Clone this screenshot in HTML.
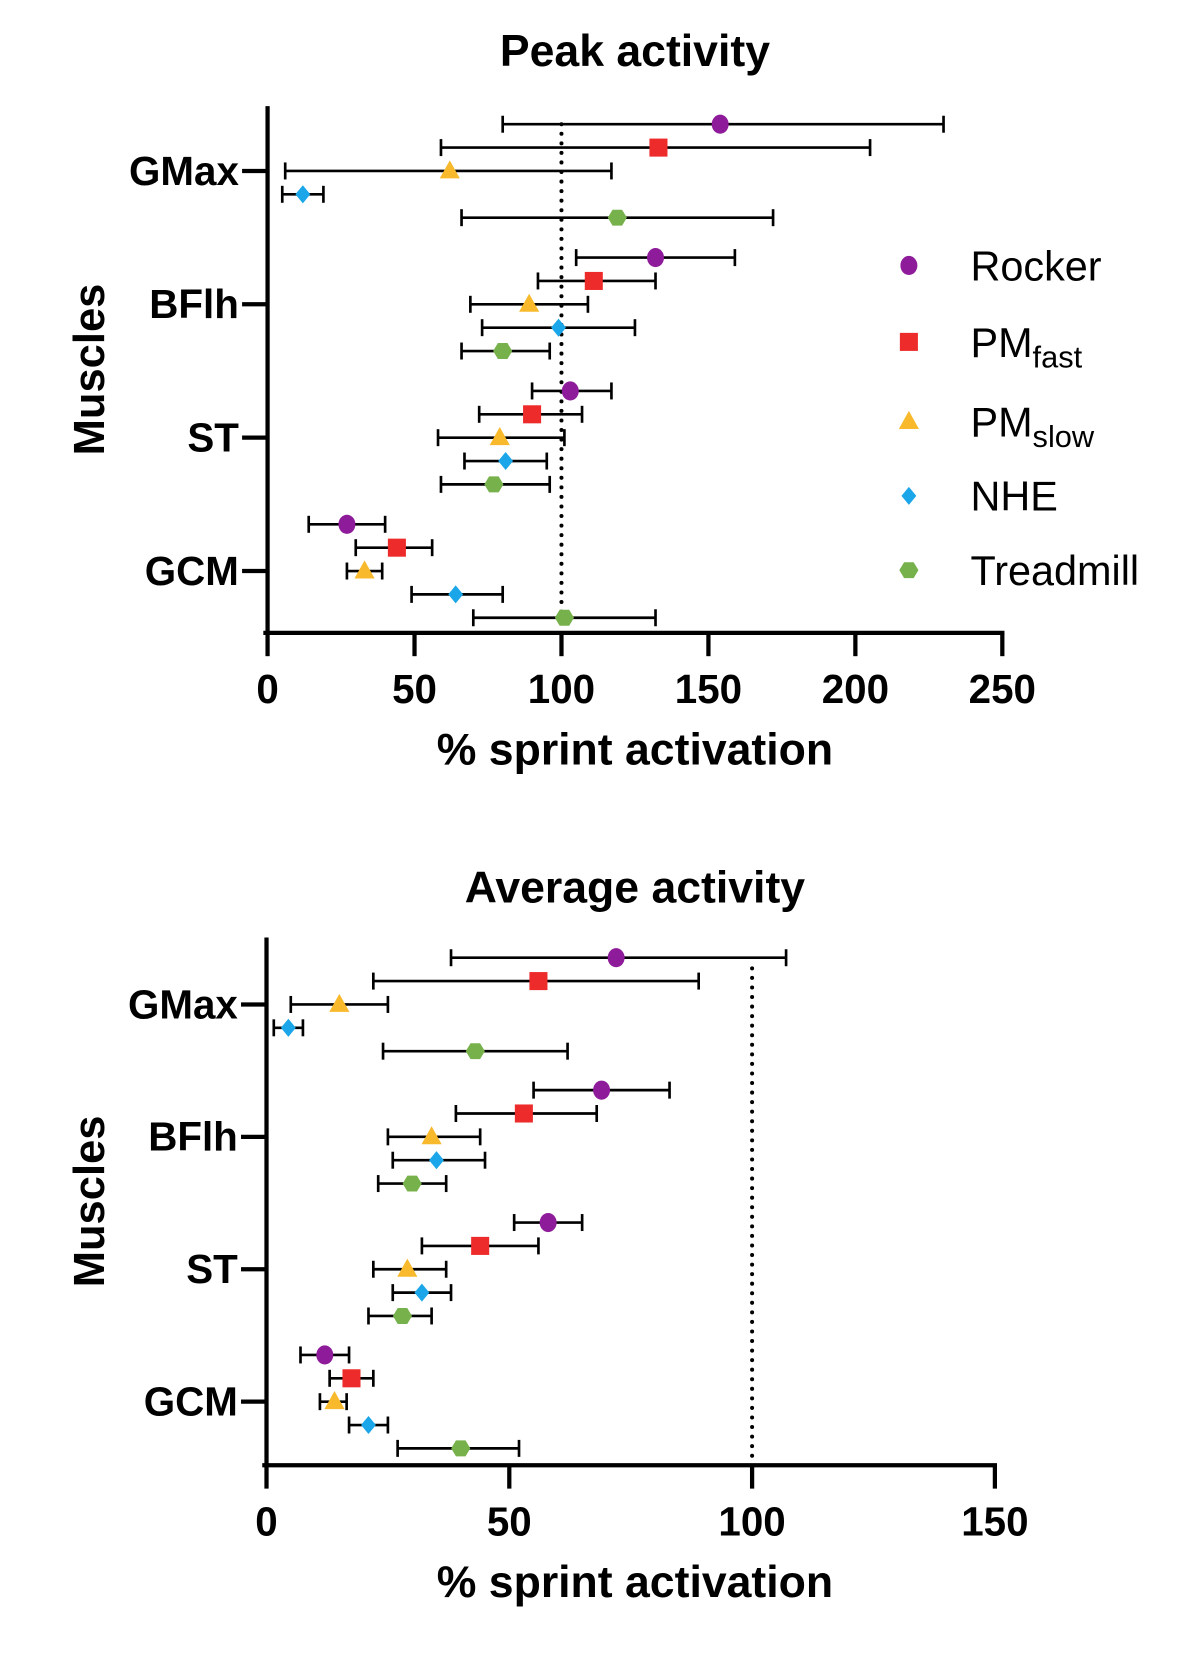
<!DOCTYPE html>
<html><head><meta charset="utf-8"><style>
html,body{margin:0;padding:0;background:#fff}
svg{display:block}
text{font-family:"Liberation Sans",Arial,sans-serif}
</style></head><body>
<svg id="chart" width="1203" height="1667" viewBox="0 0 1133 1570" preserveAspectRatio="none" xmlns="http://www.w3.org/2000/svg">
</svg>
<script>
const categories = ["GMax","BFlh","ST","GCM"];
const seriesNames = ["Rocker","PMfast","PMslow","NHE","Treadmill"];
// Peak activity: mean, low, high per category per series
const peakMean = [[154,133,62,12,119],[132,111,89,99,80],[103,90,79,81,77],[27,44,33,64,101]];
const peakLow  = [[80,59,6,5,66],[105,92,69,73,66],[90,72,58,67,59],[14,30,27,49,70]];
const peakHigh = [[230,205,117,19,172],[159,132,109,125,96],[117,107,101,95,96],[40,56,39,80,132]];
const peakTicks = [0,50,100,150,200,250];
// Average activity
const avgMean = [[72,56,15,4.5,43],[69,53,34,35,30],[58,44,29,32,28],[12,17.5,14,21,40]];
const avgLow  = [[38,22,5,1.5,24],[55,39,25,26,23],[51,32,22,26,21],[7,13,11,17,27]];
const avgHigh = [[107,89,25,7.5,62],[83,68,44,45,37],[65,56,37,38,34],[17,22,16.5,25,52]];
const avgTicks = [0,50,100,150];
const refLine = 100;

const colors = ["#8E1B9A","#EE2B2B","#F8BA2C","#1AA6E9","#77B14B"];
const NS = "http://www.w3.org/2000/svg";
const svg = document.getElementById('chart');
function mk(tag, attrs, parent){const e=document.createElementNS(NS,tag);for(const k in attrs)e.setAttribute(k,attrs[k]);(parent||svg).appendChild(e);return e;}

function marker(g, s, x, y){
  const c = colors[s]; let e;
  if(s===0){e=mk('ellipse',{cx:x,cy:y,rx:8,ry:9,fill:c},g);}
  else if(s===1){e=mk('rect',{x:x-8.5,y:y-8.5,width:17,height:17,fill:c},g);}
  else if(s===2){e=mk('polygon',{points:`${x},${y-10} ${x+9.5},${y+7} ${x-9.5},${y+7}`,fill:c},g);}
  else if(s===3){e=mk('polygon',{points:`${x},${y-8.5} ${x+7},${y} ${x},${y+8.5} ${x-7},${y}`,fill:c},g);}
  else {e=mk('polygon',{points:`${x-4.5},${y-7.5} ${x+4.5},${y-7.5} ${x+9},${y} ${x+4.5},${y+7.5} ${x-4.5},${y+7.5} ${x-9},${y}`,fill:c},g);}
  return e;
}

function drawChart(opt){
  const g = mk('g',{});
  
  
  const xs = v => opt.x0 + (v - opt.ticks[0])/(opt.ticks[opt.ticks.length-1]-opt.ticks[0])*(opt.x1-opt.x0);
  const yc = i => opt.yCat0 + i*opt.catStep;
  const t = mk('text',{x:598,y:opt.titleY,'text-anchor':'middle','font-size':42,'font-weight':'bold'},g);
  t.textContent = opt.title;
   
  const rl = mk('line',{x1:xs(refLine),x2:xs(refLine),y1:opt.refTop,y2:opt.axisY-8,stroke:'#000','stroke-width':3.8,'stroke-dasharray':'0 9','stroke-linecap':'round'},g);
   
  for(let c=0;c<categories.length;c++){
    for(let s=0;s<seriesNames.length;s++){
      const y = yc(c) + (s-2)*22;
      const lo=xs(opt.low[c][s]), hi=xs(opt.high[c][s]), m=xs(opt.mean[c][s]);
      const eg = mk('g',{},g);
      
      
      mk('line',{x1:lo,x2:hi,y1:y,y2:y,stroke:'#000','stroke-width':2.5},eg);
      mk('line',{x1:lo,x2:lo,y1:y-8,y2:y+8,stroke:'#000','stroke-width':2.5},eg);
      mk('line',{x1:hi,x2:hi,y1:y-8,y2:y+8,stroke:'#000','stroke-width':2.5},eg);
      const mm = marker(g,s,m,y);
      
      
    }
    const tk = mk('line',{x1:opt.x0-24,x2:opt.x0,y1:yc(c),y2:yc(c),stroke:'#000','stroke-width':4},g);
     
    const lb = mk('text',{x:opt.x0-27,y:yc(c)+13,'text-anchor':'end','font-size':38,'font-weight':'bold'},g);
    lb.textContent = categories[c];
     
  }
  const ya = mk('line',{x1:opt.x0,x2:opt.x0,y1:opt.axisTop,y2:opt.axisY+2,stroke:'#000','stroke-width':4},g);
   
  const xa = mk('line',{x1:opt.x0-4,x2:opt.x1+2,y1:opt.axisY,y2:opt.axisY,stroke:'#000','stroke-width':4},g);
   
  opt.ticks.forEach(v=>{
    const l = mk('line',{x1:xs(v),x2:xs(v),y1:opt.axisY,y2:opt.axisY+22,stroke:'#000','stroke-width':4},g);
     
    const tx = mk('text',{x:xs(v),y:opt.axisY+66,'text-anchor':'middle','font-size':38,'font-weight':'bold'},g);
    tx.textContent = v;
     
  });
  const xt = mk('text',{x:598,y:opt.axisY+124,'text-anchor':'middle','font-size':42,'font-weight':'bold'},g);
  xt.textContent = '% sprint activation';
   
  const cy = (opt.axisTop+opt.axisY)/2;
  const yt = mk('text',{x:98,y:cy,'text-anchor':'middle','font-size':41,'font-weight':'bold',transform:`rotate(-90 98 ${cy})`},g);
  yt.textContent = 'Muscles';
   
}

drawChart({name:'peak-activity-chart',title:'Peak activity',titleY:62,x0:252,x1:944,ticks:peakTicks,axisY:596,axisTop:100,yCat0:161,catStep:125.6,refTop:117,mean:peakMean,low:peakLow,high:peakHigh});
drawChart({name:'average-activity-chart',title:'Average activity',titleY:850,x0:251,x1:937,ticks:avgTicks,axisY:1380,axisTop:883,yCat0:946,catStep:124.7,refTop:912,mean:avgMean,low:avgLow,high:avgHigh});

const legY = [250,322,397,467,537];
const lg = mk('g',{});
 
const labels = [["Rocker",""],["PM","fast"],["PM","slow"],["NHE",""],["Treadmill",""]];
for(let s=0;s<5;s++){
  const e = mk('g',{},lg);
  
  
  marker(e,s,856,legY[s]);
  const tx = mk('text',{x:914,y:legY[s]+14,'font-size':39},e);
  tx.textContent = labels[s][0];
  if(labels[s][1]){
    const ts = mk('tspan',{'font-size':29,dy:10},tx);
    ts.textContent = labels[s][1];
  }
}
</script>
</body></html>
